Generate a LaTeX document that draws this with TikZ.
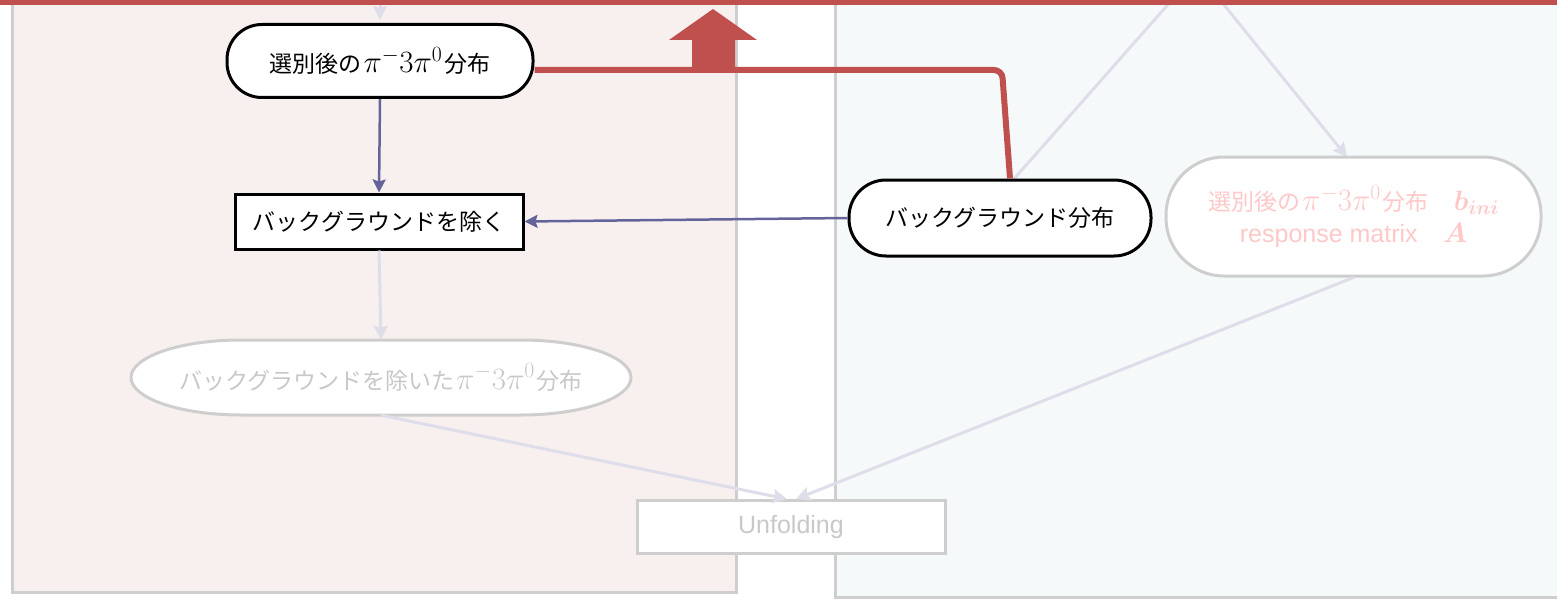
\RequirePackage{fix-cm}
\documentclass[tikz,border=0pt]{standalone}
\usepackage[no-math]{fontspec}
\usepackage{bm}
\setmainfont{Liberation Sans}
\newfontfamily\jp{Noto Sans CJK JP}
\usetikzlibrary{arrows.meta}

\definecolor{accentred}{RGB}{192,80,77}
\definecolor{flowblue}{RGB}{100,100,155}
\definecolor{fadeline}{RGB}{222,222,234}
\definecolor{fadeborder}{RGB}{206,206,206}
\definecolor{fadetext}{RGB}{200,200,200}
\definecolor{fadepink}{RGB}{255,200,200}
\definecolor{leftbg}{RGB}{248,240,239}
\definecolor{rightbg}{RGB}{246,249,250}

\newcommand{\jpfont}{\jp\fontsize{23}{28}\selectfont}
\newcommand{\latfont}{\fontsize{25}{32}\selectfont}
\newcommand{\pimix}{\hspace{2pt}{\fontsize{31}{38}\selectfont$\pi^{-}3\pi^{0}$}\hspace{2pt}}
\newcommand{\bmath}[1]{{\fontsize{28}{32}\selectfont$\bm{#1}$}}

\tikzset{
  activebox/.style={draw=black, line width=3pt, fill=white, text=black,
    inner sep=0pt, align=center, font=\jpfont},
  fadebox/.style={draw=fadeborder, line width=3pt, fill=white, text=fadetext,
    inner sep=0pt, align=center},
  panel/.style={draw=fadeborder, line width=3pt},
  flowarrow/.style={draw=flowblue, line width=2.5pt,
    -{Stealth[length=13pt,width=13pt,inset=2pt]}},
  fadearrow/.style={draw=fadeline, line width=3pt,
    -{Stealth[length=14pt,width=14pt,inset=2pt]}},
  fadeplain/.style={draw=fadeline, line width=3pt},
  redlink/.style={draw=accentred, line width=6pt, rounded corners=8pt},
}

\begin{document}
\begin{tikzpicture}[x=1pt,y=-1pt]
\useasboundingbox (0,0) rectangle (1557,599);

% background panels
\draw[panel, fill=leftbg]  (12,-20) rectangle (736,592);
\draw[panel, fill=rightbg] (835,-20) rectangle (1590,597);

% free ends of incoming connectors
\coordinate (topin) at (380,-2);
\coordinate (srcA) at (1172,0);
\coordinate (srcB) at (1220,0);
\coordinate (bend) at (1002,70);

% remaining-distribution node: outline with elliptic ends
\filldraw[draw=fadeborder, fill=white, line width=3pt]
  (521,340) arc[start angle=90, end angle=-90, x radius=110pt, y radius=37.5pt]
  -- (241,415) arc[start angle=270, end angle=90, x radius=110pt, y radius=37.5pt]
  -- cycle;
\node[inner sep=0pt, minimum width=500pt, minimum height=75pt, text=fadetext,
  font=\jpfont] (rem) at (381,377.5) {バックグラウンドを除いた\pimix 分布};

% faded connectors
\draw[fadeplain] (srcA) -- (1013,180);
\draw[fadearrow] (srcB) -- (1347,157);

% nodes
\node[activebox, minimum width=306pt, minimum height=73pt, rounded corners=35pt]
  (sel) at (380,61) {選別後の\pimix 分布};
\node[activebox, minimum width=288pt, minimum height=55pt]
  (sub) at (379,221.5) {バックグラウンドを除く};
\node[activebox, minimum width=302pt, minimum height=76pt, rounded corners=37pt]
  (bg) at (1000,218) {バックグラウンド分布};
\node[fadebox, minimum width=375pt, minimum height=119pt, rounded corners=58pt,
  text=fadepink, font=\latfont]
  (dist) at (1353.5,216.5)
  {{\jpfont 選別後の\pimix 分布}\quad\bmath{b_{ini}}\\response matrix\quad\bmath{A}};
\node[fadebox, minimum width=308pt, minimum height=53pt, font=\latfont]
  (unf) at (791,527) {Unfolding};

% faded flow
\draw[fadearrow, shorten >=3pt] (topin) -- (sel.north);
\draw[fadearrow] (sub.south) -- (rem.north);
\draw[fadearrow] (rem.south) -- ([xshift=-4pt]unf.north);
\draw[fadearrow] (dist.south) -- ([xshift=5pt]unf.north);

% active flow
\draw[flowarrow] (sel.south) -- (sub.north);
\draw[flowarrow] (bg.west) -- (sub.east);

% feedback to the top bar
\draw[redlink] ([yshift=-9pt]sel.east) -- (bend) -- ([xshift=10pt]bg.north);
\fill[accentred] (692,72) -- (692,40) -- (669,40) -- (713,9) -- (757,40)
  -- (735,40) -- (735,72) -- cycle;
\coordinate (barL) at (0,2.5);
\coordinate (barR) at (1557,2.5);
\draw[accentred, line width=5pt] (barL) -- (barR);
\end{tikzpicture}
\end{document}
